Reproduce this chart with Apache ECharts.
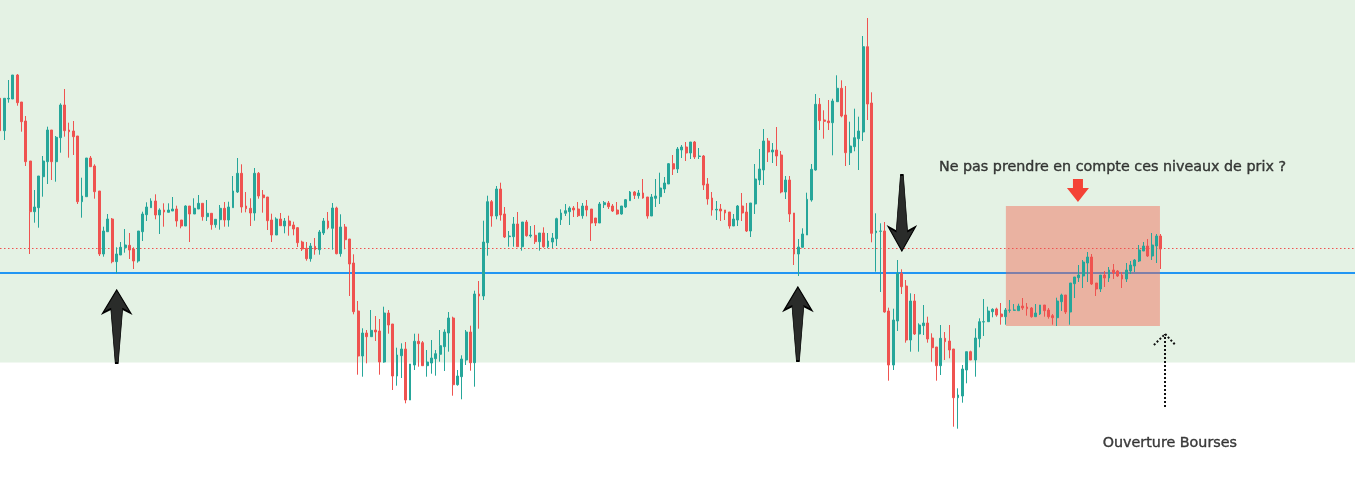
<!DOCTYPE html>
<html><head><meta charset="utf-8">
<script src="https://cdn.jsdelivr.net/npm/echarts/dist/echarts.min.js"></script>
<style>html,body{margin:0;padding:0;background:#fff;overflow:hidden}#c{width:1355px;height:485px}</style>
</head><body><div id="c"></div>
<script>
const opens = [
386.7,354.3,386,386,410,383,364,324,273.3,277.3,
308.3,323.3,355,323.3,347.3,380,355,354,349,283.3,
288.3,327,319,294,231,253.3,266,223.3,230,237.3,
239.7,236,224,253.3,270.3,277.3,284,270,275,272.7,
274,276,265,259,279,271,276,281.7,268.3,271.7,
260.3,265.3,276.7,265,277.3,293,311.7,279,276.7,272,
311.7,290,288,265,250,266,259,264,260,257.3,
243,236.7,226.3,238.7,235.3,252,264,256.7,277,231.3,
258,246,222,174,129,152,148.3,155,154,123,
172,161,109,129.3,136,85,120,143.7,142.3,119.3,
122,126.3,130.7,138.3,152,167,100.3,108.3,125,153,
122.3,191,189,242.3,283.3,269,296,271,248.3,248.3,
261,238.3,263,249,249.7,243.3,252,238.3,243,246.3,
265.3,271.7,273.3,277,276,269.3,279,276,267,262,
280.3,282,279,275,271,278,284.3,293,289.3,292,
288,269,286.7,288.3,296,301,321.3,316,335,338,
332,343,328.5,329,301,287,275,276,275,273,
259,265,279,273,254,281,305,315,344,333,
335,330,293,305,272,231,237.7,250,285,315,
380.7,365,364,362.3,383.3,396.7,370,332.3,338.3,346.3,
353,438.3,382,252.3,253.7,254,174,120,164,211.7,
199,145,184,151,159.3,162,147,138,119.3,146.7,
144,136,87.3,89,115,133.3,125,146.3,163,163.3,
173.3,176,171,168.3,174.7,174.7,174.3,179,178,177,
168.3,171,180,175,169.3,167.3,183.3,190,173,201.3,
207.3,209,222,228,202,196,210,207,215,214,
210,206,214,219,224,234,239,229,239,249
];
const closes = [
354.3,386.7,386.7,410,382.3,363.3,323.3,273.3,278,309,
324,355,323.3,347.7,380,354.3,353.3,348.3,283.3,289,
327,318.3,293.3,231,254,266,223.3,231,237.7,240,
235,224,254,271,278,284,270,275,273,275,
276,264,259,279,271,276.7,281.7,268.3,271.7,260.3,
265.7,276.7,265,278,294,311.7,278,276.3,272,311.7,
289,287.3,264.3,250,266,259.3,264,259.3,256,242.3,
236,226.3,239,235.3,253,264,257.3,277,231.3,258,
245.3,221,173.3,129,152,148.3,154.7,153,123,172,
160,109,130,136,85,121,143.7,141.3,119.3,123,
127,131.3,139.3,153,167,100.3,109,126,153,122.3,
191,189,243,283.3,269,296,270,248,249,261,
238.3,263,249.3,250,243.3,252,238.3,244,247,266.3,
272,274.3,277,275,269.3,279,275,262,262,281,
282.3,278.3,274,271,279,285.3,293,289.7,292,287,
269,288,289,297,302,321.3,316,336,338,332,
343,328,329,300,286,275,275.7,274,272,259,
266,279,272,254,282,306,316,344,333,335,
329,293,305,271,231,238,251,285.7,315.7,380.7,
364.3,363.7,362.3,384,396.7,369,332.3,339,347.3,354,
438.3,381,251.7,254,254,173,120,165,211.7,198.3,
145,184,151,160,162,146,137.3,119.3,146.7,143.3,
135,87.3,90,116,133.3,125,147,163.3,163.3,174,
175.7,170,168.3,175,175,175,179,177,176.3,168.3,
172,180,174.3,168.3,167.3,184,190,173,202,208,
210,223,228,201,196,210,207,215,212,209,
206,215,220,225,235,239,229,240,249,236
];
const lows = [
329,345,382.3,386,379.3,353.3,319,231,262.3,257.3,
288.3,301,305,303.3,332.3,348.3,327.3,330,281,267.3,
288.3,318.3,286.3,229,228.3,253.3,221.7,211.7,230,232.3,
226,216,222.3,244,264,277.3,265.7,251,258.3,272.7,
274,258.3,256.7,259,243,271,276,264.3,264,255.3,
257.3,255.3,258.3,258.3,277.3,292,272.3,272.7,259,264.3,
286.3,272.3,255,243,250,259.3,251.7,249.3,249.7,238,
234,224.3,223.3,230.3,230.3,250,255.7,235.3,230.7,228.3,
235.7,189,170.7,110.3,108.3,121.7,148.3,144,110.3,122.3,
151.3,95,99.3,107,81.7,85,115,118.3,119.3,108.3,
111.3,109.3,123.3,114,133.3,89.3,99.3,85.7,120,114.3,
98.3,156.3,185,229.3,258.3,265.7,264.3,247,238.3,238.3,
238.3,234.3,248.3,247.3,241,234.3,237.3,236.7,237,239,
260,269,260,268,268,266.3,268.7,244,259,262,
277,276,273,270.3,270.3,277,284.3,286,286.3,286.3,
266.3,269,278,281,292,301,310,312,327,324,
326,326,326,295,280.3,269.3,265,264,265,256.3,
259,259,264,253,248,271,300,300,323,322,
319,291.7,286,263,220,209,237.7,250,283.3,314.3,
355,346.3,355,329.7,383,367.7,319,320,333.7,315,
344,365,242.7,213.3,193,172.3,104.3,115,154,191,
142.3,133.3,150,133.3,150,142.3,123.3,104.3,110,125,
126.7,58.3,56.3,82.3,101.7,125,108.3,137.7,149,163.3,
167.7,168.3,160.3,160.3,172.3,174.3,174.3,175,169.3,167.3,
168.3,170,168.3,166.3,160.3,159,174,171,160.3,187,
203,197,203,200,189,193,198,203,206,208,
197,203,211,213,223,234,228,225,222,216
];
const highs = [
386.7,386.7,405,410,411,383,369,324,295,309,
329,358.3,355,349,381.7,396,362.3,364,349,307.3,
327,329,320.7,294,258.3,271,267,237.7,243,256,
252,237.7,254,273.3,282.7,286.7,290.7,276.7,281.7,281.7,
288,279.3,265,279.7,279,286.7,290,281.7,285,271.7,
265.7,280,283,283.3,309,327,320.7,293,286.7,317,
313,295,288,271.3,267.7,272,267,269.3,263.3,258,
244.3,243,242,247,255,267,273,282,278.3,270.7,
261,246,230.7,184,156.7,155,175,169,166,178.3,
175,161,137.3,141.7,143,121,151.3,151.3,144,135,
145,135,155,155.7,173,168.3,115,129.7,155,159.3,
194.3,204,264.3,289.3,285,299,302.3,278,254,268,
273,263,265,259,260,252,257.7,252,252,267.3,
275.7,281,278.7,279,283,282,285,276,267,283,
284,284,281,283,279,286,294,294,295,306,
288,291,306,312.3,308,322,330,338,340,343,
343,344,337,330,307,293,284,281,275,273,
271,280,292,282,282,321,336,356,347,342,
358,334,309,309,272,246,256.7,292.3,321,391,
387,374.7,385,386.3,409.7,404.7,399,363.3,376.3,368.3,
449,467,392.7,271.7,261.7,263,177.3,176.3,225,215.7,
205,191.7,191,161.7,180,168.3,151.7,138,160,153,
160,136,96.7,120,133.3,134.3,156.7,166.7,186,178.3,
176.7,177.3,182,177,185,181,181.3,187,182,178,
181,180,180,177,171,187.3,191.3,190,202,208,
220,225,233,231,202,210,214,218,221,215,
213,222,224,226,240,243,246,252,251,251
];
const slotCount = 315;
const categories = Array.from({length: slotCount}, (_, i) => 'B' + (i + 1));
const supportLevel = 212.5;
const dottedLevel = 236.7;
const zoneBottom = 122.5;
const zoneTop = 485;
const boxCorners = [[233.1, 159], [268.8, 279]];
const noteTexts = [
  {text: 'Ne pas prendre en compte ces niveaux de prix ?', x: 257.8, y: 317.5},
  {text: 'Ouverture Bourses', x: 271.1, y: 42}
];
const upPath = 'path://M14.3,0 L28.6,23 L20.3,19 L15.8,73 L12.8,73 L8.3,19 L0,23 Z';
const downPath = 'path://M14.3,73 L28.6,50 L20.3,54 L15.8,0 L12.8,0 L8.3,54 L0,50 Z';
const redPath = 'path://M6,0 L16,0 L16,9 L22,9 L11,23 L0,9 L6,9 Z';
const arrowMarks = [
  {x: 27.05, y: 158.5, w: 28, h: 73, kind: 'up'},
  {x: 184.9, y: 161, w: 28, h: 74, kind: 'up'},
  {x: 209.0, y: 272, w: 27, h: 76, kind: 'down'},
  {x: 249.8, y: 294.5, w: 22, h: 23, kind: 'red'}
];
const dottedArrow = [
  [[270.0, 78], [270.0, 151]],
  [[267.4, 140], [270.0, 151]],
  [[270.0, 151], [272.4, 140]]
];

const candleData = opens.map((o, i) => [o, closes[i], lows[i], highs[i]]);
const chart = echarts.init(document.getElementById('c'));
const arrowData = arrowMarks.map(a => {
  if (a.kind === 'red') {
    return {value: [a.x, a.y], symbol: redPath, symbolSize: [a.w, a.h],
      itemStyle: {color: '#f44336', borderWidth: 0, opacity: 1}};
  }
  return {value: [a.x, a.y], symbol: a.kind === 'up' ? upPath : downPath, symbolSize: [a.w, a.h],
    itemStyle: {color: '#2a2c2a', borderColor: '#000000', borderWidth: 1.2, opacity: 1}};
});
chart.setOption({
  animation: false,
  backgroundColor: '#ffffff',
  grid: {left: 0, right: 0, top: 0, bottom: 0},
  xAxis: [
    {type: 'category', data: categories, boundaryGap: false, show: false},
    {type: 'value', min: 0, max: slotCount - 1, show: false}
  ],
  yAxis: {type: 'value', min: 0, max: 485, show: false, splitLine: {show: false}},
  series: [
    {type: 'line', xAxisIndex: 1, data: [], silent: true,
      markArea: {silent: true, z: 0, label: {show: false}, itemStyle: {color: '#e4f2e4'},
        data: [[{yAxis: zoneBottom}, {yAxis: zoneTop}]]}},
    {type: 'line', xAxisIndex: 1, data: [], silent: true,
      markLine: {silent: true, z: 1, symbol: ['none', 'none'], label: {show: false},
        lineStyle: {color: '#2196f3', width: 2, type: 'solid'}, data: [{yAxis: supportLevel}]}},
    {type: 'line', xAxisIndex: 1, data: [], silent: true,
      markArea: {silent: true, z: 2, label: {show: false}, itemStyle: {color: 'rgba(242,100,80,0.45)'},
        data: [[{coord: boxCorners[0]}, {coord: boxCorners[1]}]]}},
    {type: 'line', xAxisIndex: 1, data: [], silent: true,
      markLine: {silent: true, z: 2, symbol: ['none', 'none'], label: {show: false},
        lineStyle: {color: '#ef5350', width: 1, type: [1.5, 2.5]}, data: [{yAxis: dottedLevel}]}},
    {type: 'candlestick', data: candleData, z: 3, barWidth: 2.4, silent: true,
      itemStyle: {color: '#26a69a', color0: '#ef5350', borderColor: '#26a69a', borderColor0: '#ef5350', borderWidth: 1}},
    {type: 'scatter', xAxisIndex: 1, z: 6, silent: true, data: arrowData},
    {type: 'line', xAxisIndex: 1, data: [], silent: true,
      markLine: {silent: true, z: 6, symbol: ['none', 'none'], label: {show: false},
        lineStyle: {color: '#111111', width: 2, type: [2, 2]},
        data: dottedArrow.map(s => [{coord: s[0]}, {coord: s[1]}])}},
    {type: 'scatter', xAxisIndex: 1, z: 7, silent: true, symbolSize: 1,
      itemStyle: {color: 'rgba(0,0,0,0)'},
      label: {show: true, position: 'inside', formatter: '{b}', fontFamily: 'DejaVu Sans', fontWeight: 'normal',
        fontSize: 14.3, color: '#111111', textBorderColor: '#111111', textBorderWidth: 0.4},
      data: noteTexts.map(n => ({name: n.text, value: [n.x, n.y]}))}
  ]
});
</script></body></html>
